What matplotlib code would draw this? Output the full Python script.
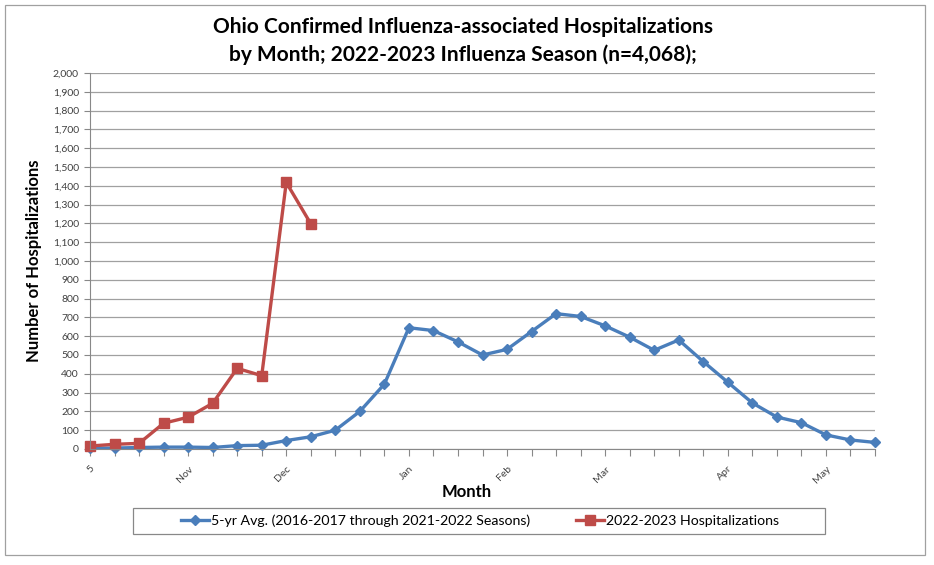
import numpy as np
import matplotlib.pyplot as plt
from matplotlib.patches import Rectangle

plt.rcParams['font.family'] = ['Lato', 'DejaVu Sans']

# weekly data points, week 0 .. 32
weeks = np.arange(33)
avg_5yr = [5, 5, 8, 10, 10, 8, 18, 20, 45, 65, 100, 200, 345, 645, 630, 570,
           500, 530, 625, 720, 705, 655, 595, 525, 580, 465, 355, 245, 170,
           140, 75, 48, 35]
hosp_2223 = [16, 25, 30, 137, 169, 243, 429, 390, 1418, 1198]

tick_labels = {0: "5", 4: "Nov", 8: "Dec", 13: "Jan", 17: "Feb",
               21: "Mar", 26: "Apr", 30: "May"}

blue = "#4A7EBB"
red = "#BE4B48"

fig = plt.figure(figsize=(9.34, 5.65), dpi=100)
ax = fig.add_axes([90/934, 1 - 449/565, (875-90)/934, (449-73)/565])

ax.plot(weeks, avg_5yr, color=blue, lw=2.4, marker="D", ms=5.5,
        label="5-yr Avg. (2016-2017 through 2021-2022 Seasons)")
ax.plot(weeks[:len(hosp_2223)], hosp_2223, color=red, lw=2.4, marker="s", ms=6.5,
        label="2022-2023 Hospitalizations")

ax.set_xlim(0, 32)
ax.set_ylim(0, 2000)
ax.set_yticks(np.arange(0, 2001, 100))
ax.set_yticklabels([f"{v:,}" for v in range(0, 2001, 100)], fontsize=7.5, color="#404040")
ax.set_xticks(weeks)
ax.set_xticklabels([tick_labels.get(w, "") for w in weeks], rotation=45,
                   ha="right", rotation_mode="anchor", fontsize=7.5, color="#404040")
ax.tick_params(axis="x", length=5, color="#888888", pad=6)
ax.tick_params(axis="y", length=4, color="#888888", pad=4)
ax.grid(axis="y", color="#A0A0A0", lw=0.9)
ax.set_axisbelow(True)
for s in ["top", "right"]:
    ax.spines[s].set_visible(False)
ax.spines["left"].set_color("#888888")
ax.spines["bottom"].set_color("#888888")
for line in ax.lines:
    line.set_clip_on(False)

ax.set_ylabel("Number of Hospitalizations", fontsize=12, fontweight="bold")
ax.yaxis.set_label_coords(-48/785, 0.5)
fig.text(467/934, 1 - 492/565, "Month", fontsize=12, fontweight="bold", ha="center", va="center")

fig.text(463/934, 1 - 27/565, "Ohio Confirmed Influenza-associated Hospitalizations",
         fontsize=15, fontweight="bold", ha="center", va="center")
fig.text(463/934, 1 - 55/565, "by Month; 2022-2023 Influenza Season (n=4,068);",
         fontsize=15, fontweight="bold", ha="center", va="center")

# legend box
fig.patches.append(Rectangle((133/934, 1 - 534/565), (825-133)/934, 26/565,
                             transform=fig.transFigure, fill=False, ec="#888888", lw=0.9))
fig.legend(loc="center", bbox_to_anchor=(480/934, 1 - 521/565), ncol=2, frameon=False,
           fontsize=10.2, handlelength=2.0, handletextpad=0.15, columnspacing=3.2)

# outer border
fig.patches.append(Rectangle((5/934, 1 - 555/565), 920/934, 550/565,
                             transform=fig.transFigure, fill=False, ec="#A0A0A0", lw=0.9))

fig.savefig("out.png", dpi=100)
